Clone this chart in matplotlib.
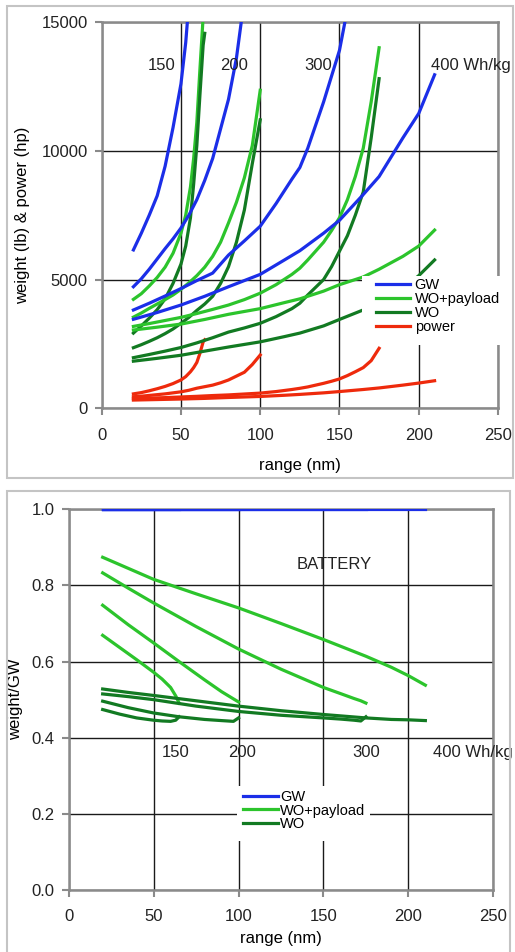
import matplotlib
matplotlib.use("Agg")
import matplotlib.pyplot as plt
from matplotlib.patches import Rectangle

plt.rcParams['font.family'] = ['Liberation Sans', 'DejaVu Sans']

# ---------------- top chart data (range nm -> weight lb / power hp) ----------
x150 = [20, 25, 30, 35, 40, 45, 50, 53, 56, 58, 60, 62, 64, 65]
gw150 = [6150, 6800, 7500, 8250, 9400, 10900, 12600, 14200, 16500, 18500, 20500, 23000, 27500, 32000]
wop150 = [4230, 4450, 4750, 5080, 5480, 6020, 6800, 7500, 8600, 9700, 11100, 13200, 15200, 15700]
wo150 = [2920, 3200, 3500, 3830, 4250, 4850, 5600, 6300, 7400, 8700, 10200, 12200, 14100, 14560]
pw150 = [560, 610, 680, 760, 850, 960, 1100, 1230, 1420, 1580, 1780, 2140, 2580, 2660]

x200 = [20, 25, 30, 35, 40, 45, 50, 55, 60, 65, 70, 75, 80, 85, 90, 95, 100]
gw200 = [4720, 5030, 5400, 5800, 6200, 6580, 7000, 7500, 8100, 8850, 9700, 10850, 12000, 13600, 15900, 19500, 24800]
wop200 = [3540, 3700, 3880, 4050, 4220, 4400, 4620, 4870, 5150, 5480, 5900, 6450, 7200, 8000, 8950, 10200, 12350]
wo200 = [2353, 2470, 2600, 2740, 2900, 3080, 3300, 3530, 3800, 4050, 4350, 4850, 5500, 6450, 7700, 9500, 11200]
pw200 = [450, 470, 500, 530, 560, 600, 640, 700, 780, 840, 900, 990, 1100, 1250, 1400, 1700, 2070]

x300 = [20, 30, 40, 50, 60, 70, 80, 90, 100, 110, 120, 125, 130, 140, 145, 150, 155, 160, 165, 170, 175]
gw300 = [3817, 4080, 4360, 4650, 4960, 5250, 5950, 6500, 7070, 7950, 8900, 9350, 10100, 11900, 12900, 13900,
         15500, 17500, 19500, 22500, 28100]
wop300 = [3180, 3290, 3410, 3530, 3680, 3840, 4010, 4220, 4470, 4800, 5200, 5440, 5760, 6450, 6900, 7400,
          8100, 9000, 10100, 11900, 14000]
wo300 = [1966, 2090, 2220, 2360, 2540, 2740, 2960, 3120, 3300, 3560, 3870, 4080, 4400, 5000, 5500, 6100,
         6700, 7500, 8400, 10500, 12800]
pw300 = [380, 395, 415, 440, 465, 495, 520, 555, 590, 650, 730, 776, 830, 970, 1050, 1140, 1270, 1420,
         1580, 1850, 2330]

x400 = [20, 35, 50, 65, 80, 100, 115, 125, 140, 150, 165, 175, 190, 200, 210]
gw400 = [3456, 3720, 4010, 4350, 4720, 5200, 5750, 6120, 6800, 7300, 8300, 9000, 10500, 11450, 12950]
wop400 = [3040, 3150, 3270, 3450, 3650, 3870, 4100, 4250, 4550, 4800, 5100, 5400, 5900, 6300, 6920]
wo400 = [1830, 1940, 2060, 2220, 2380, 2580, 2780, 2920, 3200, 3450, 3820, 4150, 4650, 5150, 5760]
pw400 = [320, 340, 360, 385, 420, 460, 505, 540, 600, 650, 730, 790, 900, 980, 1070]

# ---------------- bottom chart data (ratio to GW) ----------------------------
rx150 = [20, 30, 40, 50, 55, 60, 63, 65]
rwop150 = [0.669, 0.637, 0.605, 0.572, 0.554, 0.532, 0.510, 0.491]
rwo150 = [0.474, 0.462, 0.452, 0.446, 0.444, 0.443, 0.446, 0.455]

rx200 = [20, 35, 50, 65, 80, 90, 97, 100]
rwop200 = [0.748, 0.697, 0.649, 0.600, 0.552, 0.521, 0.502, 0.494]
rwo200 = [0.496, 0.479, 0.465, 0.455, 0.448, 0.445, 0.443, 0.452]

rx300 = [20, 35, 50, 75, 100, 125, 150, 160, 168, 172, 175]
rwop300 = [0.833, 0.793, 0.754, 0.692, 0.633, 0.580, 0.532, 0.516, 0.503, 0.497, 0.491]
rwo300 = [0.515, 0.508, 0.500, 0.483, 0.469, 0.459, 0.452, 0.449, 0.446, 0.444, 0.455]

rx400 = [20, 35, 50, 75, 100, 125, 150, 175, 190, 200, 210]
rwop400 = [0.874, 0.845, 0.816, 0.778, 0.741, 0.700, 0.658, 0.614, 0.585, 0.563, 0.538]
rwo400 = [0.528, 0.519, 0.511, 0.497, 0.483, 0.471, 0.461, 0.452, 0.448, 0.447, 0.445]

rgw_ends = [65, 100, 175, 210]
rgw_start = 20

density_labels = ["150", "200", "300", "400 Wh/kg"]
series_labels = ["GW", "WO+payload", "WO", "power"]

C_GW = '#1b2ee8'
C_WOP = '#2cc42c'
C_WO = '#127a22'
C_PW = '#ee2a0c'
LW = 2.3
SPINE = '#8a8a8a'
GRID = '#1a1a1a'

fig = plt.figure(figsize=(5.15, 9.52), dpi=100)
W, H = 515.0, 952.0

# panel borders
fig.add_artist(Rectangle((7 / W, 1 - 478 / H), 506 / W, 472 / H, transform=fig.transFigure,
                         fill=False, edgecolor='#c4c4c4', lw=1.5))
fig.add_artist(Rectangle((7 / W, -0.02), 503 / W, 1 - 491 / H + 0.02, transform=fig.transFigure,
                         fill=False, edgecolor='#c4c4c4', lw=1.5))


def style_axes(ax):
    for s in ax.spines.values():
        s.set_color(SPINE)
        s.set_linewidth(1.8)
    ax.grid(True, color=GRID, lw=1.0)
    ax.set_axisbelow(True)
    ax.tick_params(axis='both', colors=SPINE, labelcolor='#222222', labelsize=12, length=5, width=1.5)
    ax.tick_params(axis='x', pad=9)
    ax.tick_params(axis='y', pad=5)


# ---------------- top chart ----------------
ax1 = fig.add_axes([101.7 / W, 1 - 408.3 / H, 396.3 / W, 386.3 / H])
style_axes(ax1)
ax1.set_xlim(0, 250)
ax1.set_ylim(0, 15000)
ax1.set_xticks([0, 50, 100, 150, 200, 250])
ax1.set_yticks([0, 5000, 10000, 15000])

handles = []
for xs, gw, wop, wo, pw in [(x150, gw150, wop150, wo150, pw150),
                            (x200, gw200, wop200, wo200, pw200),
                            (x300, gw300, wop300, wo300, pw300),
                            (x400, gw400, wop400, wo400, pw400)]:
    h1, = ax1.plot(xs, gw, color=C_GW, lw=LW, zorder=3)
    h2, = ax1.plot(xs, wop, color=C_WOP, lw=LW, zorder=3)
    h3, = ax1.plot(xs, wo, color=C_WO, lw=LW, zorder=3)
    h4, = ax1.plot(xs, pw, color=C_PW, lw=LW, zorder=3)
    if not handles:
        handles = [h1, h2, h3, h4]

ax1.set_xlabel("range (nm)", fontsize=12, labelpad=11)
ax1.set_ylabel("weight (lb) & power (hp)", fontsize=12, labelpad=8)

for lab, xp in zip(density_labels, [38, 83.6, 136.6, 208]):
    ax1.text(xp, 13330, lab, fontsize=12, ha='center' if lab != density_labels[-1] else 'left',
             va='center', color='#222222', clip_on=False, zorder=6)

ax1.add_patch(Rectangle((0.657, 0.164), 0.40, 0.179, transform=ax1.transAxes,
                        facecolor='white', edgecolor='none', clip_on=False, zorder=4))
leg1 = ax1.legend(handles, series_labels, loc='upper left', bbox_to_anchor=(0.692, 0.337),
                  frameon=False, fontsize=10.5, handlelength=2.35, handletextpad=0.3,
                  labelspacing=0.0, borderpad=0, borderaxespad=0)
leg1.set_zorder(5)

# ---------------- bottom chart ----------------
ax2 = fig.add_axes([68.7 / W, 62.0 / H, 424.6 / W, 380.7 / H])
style_axes(ax2)
ax2.set_xlim(0, 250)
ax2.set_ylim(0, 1.0)
ax2.set_xticks([0, 50, 100, 150, 200, 250])
ax2.set_yticks([0.0, 0.2, 0.4, 0.6, 0.8, 1.0])
ax2.set_yticklabels(["%.1f" % v for v in [0.0, 0.2, 0.4, 0.6, 0.8, 1.0]])

for xe in rgw_ends:
    hb, = ax2.plot([rgw_start, xe], [1.0, 1.0], color=C_GW, lw=LW, zorder=3)
for xs, wop, wo in [(rx150, rwop150, rwo150), (rx200, rwop200, rwo200),
                    (rx300, rwop300, rwo300), (rx400, rwop400, rwo400)]:
    hg, = ax2.plot(xs, wop, color=C_WOP, lw=LW, zorder=3)
    hd, = ax2.plot(xs, wo, color=C_WO, lw=LW, zorder=3)
h2 = [hb, hg, hd]

ax2.set_xlabel("range (nm)", fontsize=12, labelpad=5)
ax2.set_ylabel("weight/GW", fontsize=12, labelpad=6)
ax2.text(156.6, 0.855, "BATTERY", fontsize=12, ha='center', va='center', color='#222222')
for lab, xp in zip(density_labels, [62.9, 102, 175.3, 214.5]):
    ax2.text(xp, 0.36, lab, fontsize=12, ha='center' if lab != density_labels[-1] else 'left',
             va='center', color='#222222', clip_on=False, zorder=6)

ax2.add_patch(Rectangle((0.3956, 0.1287), 0.314, 0.1445, transform=ax2.transAxes,
                        facecolor='white', edgecolor='none', clip_on=False, zorder=4))
leg2 = ax2.legend(h2, series_labels[:3], loc='upper left', bbox_to_anchor=(0.4098, 0.262),
                  frameon=False, fontsize=10.5, handlelength=2.4, handletextpad=0.15,
                  labelspacing=-0.05, borderpad=0, borderaxespad=0)
leg2.set_zorder(5)

fig.savefig("out.png", dpi=100)
